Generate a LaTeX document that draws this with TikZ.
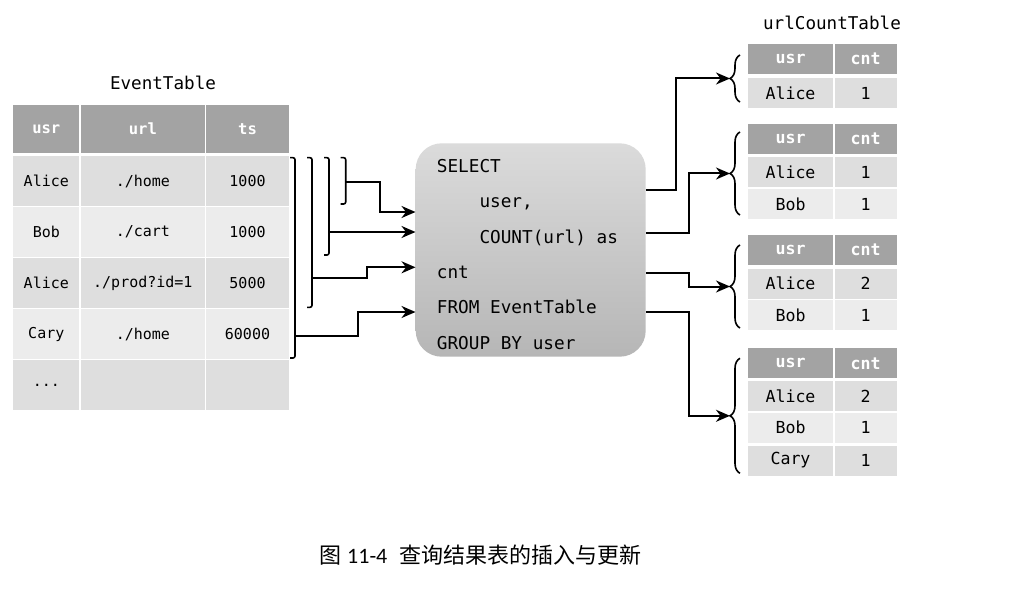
\documentclass[tikz,border=0pt]{standalone}
\usepackage{fontspec}
\setmonofont{DejaVu Sans Mono}
\newfontfamily\cjk{Noto Sans CJK SC}
\newfontfamily\capfont{Carlito}
\usepackage{tikz}
\usetikzlibrary{arrows.meta, decorations.pathreplacing}
\definecolor{hdrgray}{HTML}{A3A3A3}
\definecolor{rowdark}{HTML}{DEDEDE}
\definecolor{rowlight}{HTML}{ECECEC}
\definecolor{boxtop}{HTML}{DBDBDB}
\definecolor{boxbot}{HTML}{B6B6B6}

\begin{document}
\begin{tikzpicture}[x=1pt, y=-1pt,
    evcell/.style={inner sep=0, minimum height=49.5, font=\ttfamily\fontsize{15}{18}\selectfont},
    evhead/.style={evcell, minimum height=48, fill=hdrgray, text=white, font=\ttfamily\bfseries\fontsize{15.5}{18}\selectfont},
    uccell/.style={inner sep=0, minimum height=30, font=\ttfamily\fontsize{16.6}{20}\selectfont},
    uchead/.style={uccell, fill=hdrgray, text=white, font=\ttfamily\bfseries\fontsize{16.6}{20}\selectfont},
    tblname/.style={inner sep=0, font=\ttfamily\fontsize{17.6}{21}\selectfont},
    sqlbox/.style={inner sep=0, minimum width=230, minimum height=213.4, rounded corners=26, top color=boxtop, bottom color=boxbot},
    sqltext/.style={anchor=base west, inner sep=0, font=\ttfamily\fontsize{17.7}{21}\selectfont},
    arr/.style={-{Stealth[length=14pt, width=12pt, inset=4.5pt]}, line width=2pt},
    lbrack/.style={line width=1.6pt, rounded corners=2pt},
    rbrace/.style={line width=1.6pt, decorate, decoration={brace, mirror, amplitude=10pt}}]
    \fill[white] (0,0) rectangle (1034,591);

    % EventTable
    \node[tblname] (evname) at (163,83) {EventTable};
    \node[evhead, minimum width=66] (ev-0-1) at (46.3,129) {usr};
    \node[evhead, minimum width=124.3] (ev-0-2) at (142.85,129) {url};
    \node[evhead, minimum width=82.4] (ev-0-3) at (247.5,129) {ts};
    \foreach \r/\y/\c/\nm/\ur/\tm in {1/181/rowdark/Alice/{./home}/1000, 2/232/rowlight/Bob/{./cart}/1000,
        3/283/rowdark/Alice/{./prod?id=1}/5000, 4/334/rowlight/Cary/{./home}/60000}{
        \node[evcell, fill=\c, minimum width=66] (ev-\r-1) at (46.3,\y) {\nm};
        \node[evcell, fill=\c, minimum width=124.3] (ev-\r-2) at (142.85,\y) {\ur};
        \node[evcell, fill=\c, minimum width=82.4] (ev-\r-3) at (247.5,\y) {\tm};
    }
    \node[evcell, fill=rowdark, minimum width=66] (ev-5-1) at (46.3,385) {...};
    \node[evcell, fill=rowdark, minimum width=124.3] (ev-5-2) at (142.85,385) {};
    \node[evcell, fill=rowdark, minimum width=82.4] (ev-5-3) at (247.5,385) {};

    % brackets over the rows
    \draw[lbrack] (290,157.7) -- (295,157.7) -- (295,358) -- (290,358);
    \draw[lbrack] (307,157.7) -- (312,157.7) -- (312,307.3) -- (307,307.3);
    \draw[lbrack] (324,157.7) -- (329,157.7) -- (329,255) -- (324,255);
    \draw[lbrack] (340.7,157.7) -- (345.7,157.7) -- (345.7,204) -- (340.7,204);
    \coordinate (b1) at (295,336);
    \coordinate (b2) at (312,278.3);
    \coordinate (b3) at (329,232);
    \coordinate (b4) at (345.7,181.7);

    % query
    \node[sqlbox] (sql) at (530.7,250) {};
    \foreach \i/\x/\s in {1/436.7/SELECT, 2/479.3/{user,}, 3/479.3/{COUNT(url) as},
        4/436.7/cnt, 5/436.7/{FROM EventTable}, 6/436.7/{GROUP BY user}}
        \node[sqltext] (sq\i) at (\x, 137.2+35.3*\i) {\s};

    \coordinate (in1) at (sql.west |- 0,212);
    \coordinate (in2) at (sql.west |- 0,232);
    \coordinate (in3) at (sql.west |- 0,267.3);
    \coordinate (in4) at (sql.west |- 0,312);
    \draw[arr] (b4) -- ++(34.3,0) |- (in1);
    \draw[arr] (b3) -- (in2);
    \draw[arr] (b2) -- ++(54.7,0) |- (in3);
    \draw[arr] (b1) -- ++(63,0) |- (in4);

    % urlCountTable
    \node[tblname] (ucname) at (832,23) {urlCountTable};
    \foreach \k/\y in {1/59.2, 2/138.7, 3/250, 4/363.3}{
        \node[uchead, minimum width=84.4] (uc\k-0-1) at (790.5,\y) {usr};
        \node[uchead, minimum width=62] (uc\k-0-2) at (865.7,\y) {cnt};
    }
    \foreach \k/\r/\y/\c/\nm/\cn in {1/1/93.3/rowdark/Alice/1, 2/1/172.5/rowdark/Alice/1, 2/2/204/rowlight/Bob/1,
        3/1/283.5/rowdark/Alice/2, 3/2/315/rowlight/Bob/1, 4/1/396.2/rowdark/Alice/2,
        4/2/427.8/rowlight/Bob/1, 4/3/460.5/rowdark/Cary/1}{
        \node[uccell, fill=\c, minimum width=84.4] (uc\k-\r-1) at (790.5,\y) {\nm};
        \node[uccell, fill=\c, minimum width=62] (uc\k-\r-2) at (865.7,\y) {\cn};
    }

    % braces in front of the result tables
    \draw[rbrace] (740,55) -- (740,102);
    \draw[rbrace] (740,132) -- (740,215);
    \draw[rbrace] (740,245) -- (740,328);
    \draw[rbrace] (740,358.3) -- (740,473.3);
    \coordinate (r1) at (730,78.5);
    \coordinate (r2) at (730,173.5);
    \coordinate (r3) at (730,286.5);
    \coordinate (r4) at (730,415.8);

    \coordinate (o1) at (sql.east |- 0,190);
    \coordinate (o2) at (sql.east |- 0,233.3);
    \coordinate (o3) at (sql.east |- 0,272.7);
    \coordinate (o4) at (sql.east |- 0,312.3);
    \draw[arr] (o1) -- ++(30.3,0) |- (r1);
    \draw[arr] (o2) -- ++(42.6,0) |- (r2);
    \draw[arr] (o3) -- ++(42.6,0) |- (r3);
    \draw[arr] (o4) -- ++(42.6,0) |- (r4);

    % caption
    \node[anchor=west, inner sep=0, font=\fontsize{22}{26}\selectfont] (caption) at (319,555)
        {{\cjk 图}\hspace{6pt}{\capfont 11-4}\hspace{12pt}{\cjk 查询结果表的插入与更新}};
\end{tikzpicture}
\end{document}
